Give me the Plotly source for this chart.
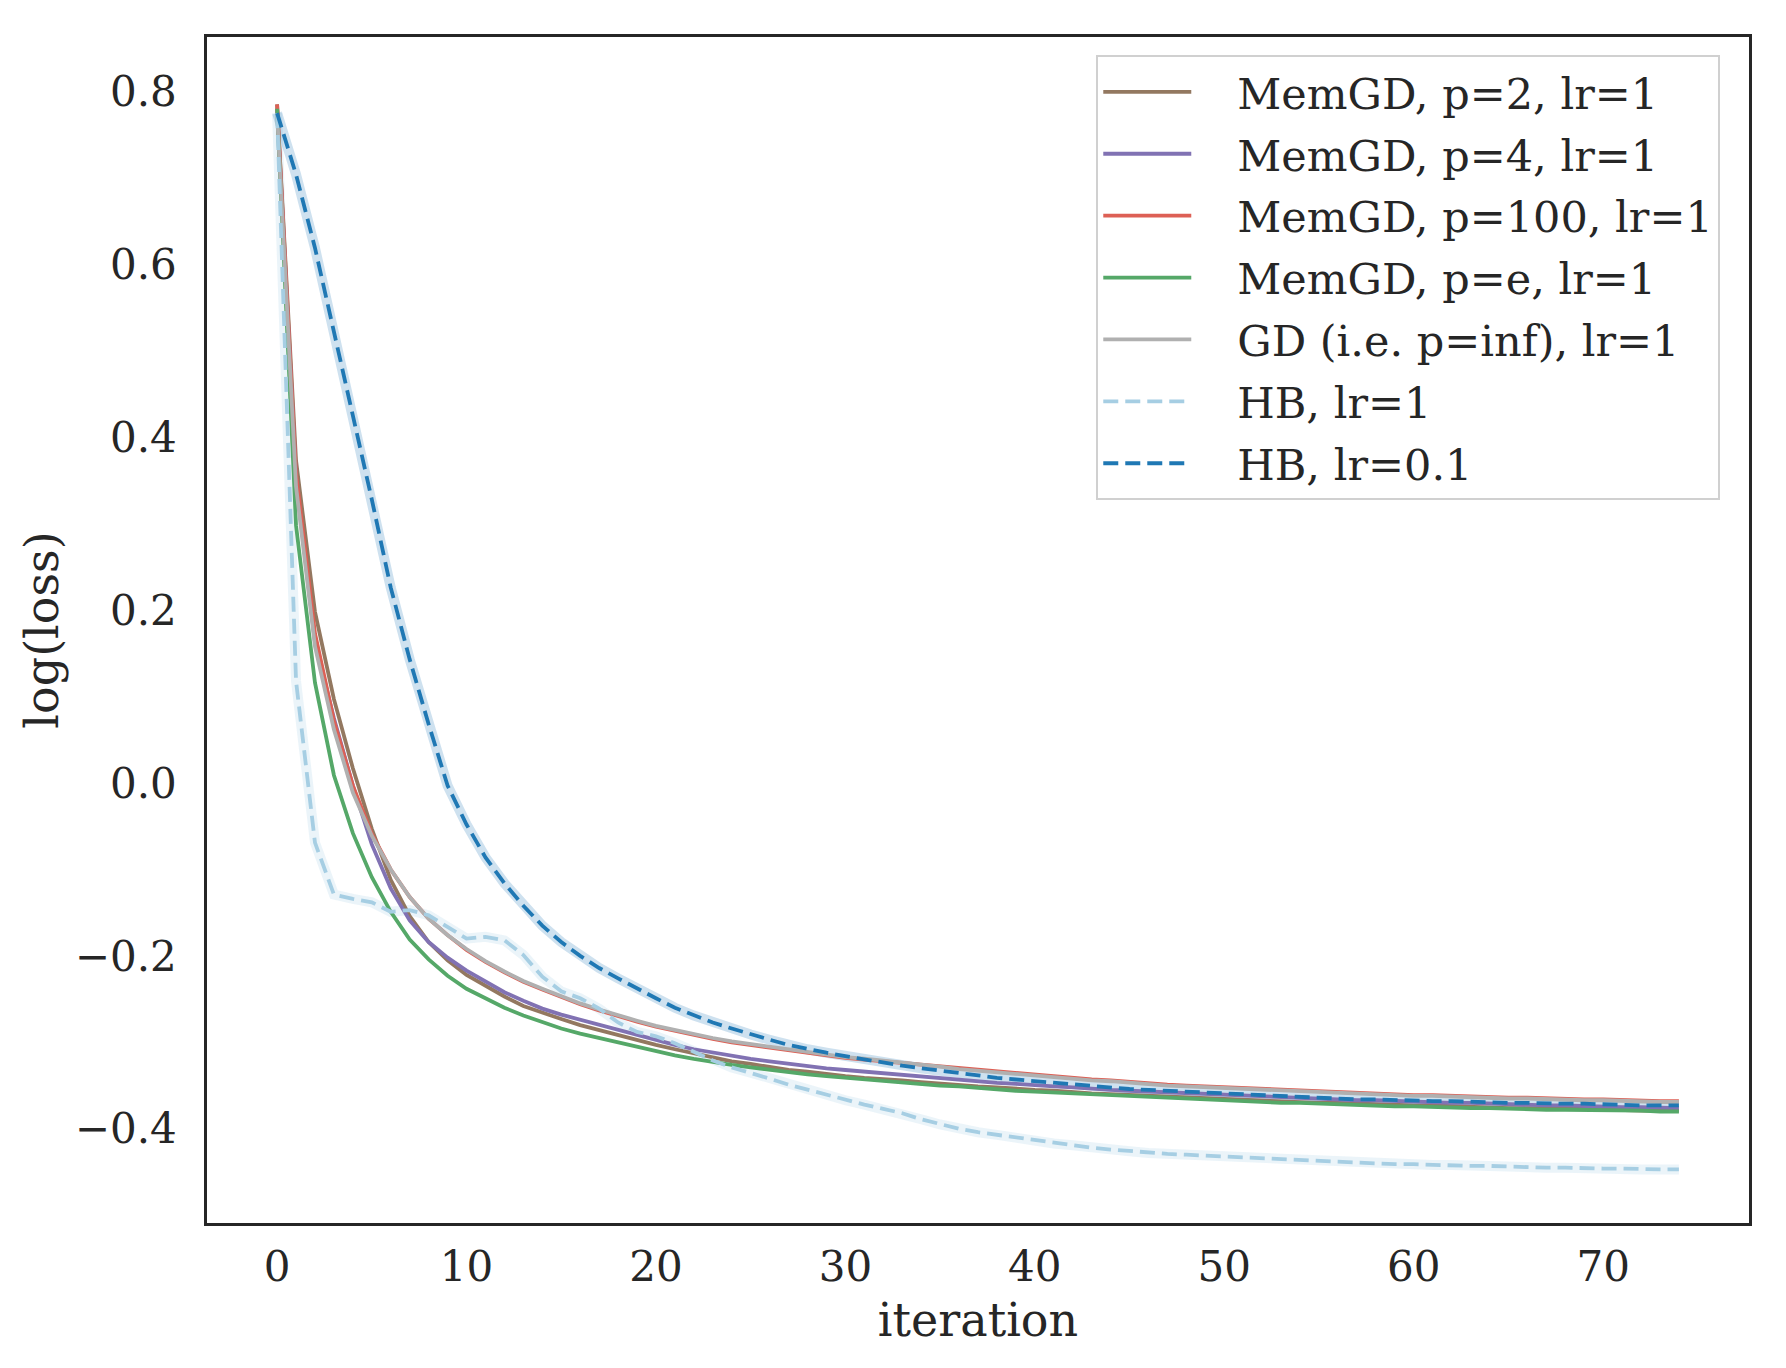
import plotly.graph_objects as go

iteration = list(range(75))

memgd_p2 = [0.785, 0.373, 0.198, 0.097, 0.017, -0.053, -0.112, -0.154, -0.184, -0.205,
            -0.222, -0.235, -0.247, -0.258, -0.266, -0.273, -0.280, -0.286, -0.292, -0.298,
            -0.303, -0.308, -0.313, -0.318, -0.322, -0.325, -0.329, -0.332, -0.334, -0.337,
            -0.339, -0.341, -0.342, -0.344, -0.346, -0.348, -0.349, -0.351, -0.352, -0.354,
            -0.355, -0.356, -0.358, -0.359, -0.360, -0.361, -0.362, -0.363, -0.364, -0.365,
            -0.366, -0.367, -0.367, -0.368, -0.369, -0.370, -0.370, -0.371, -0.372, -0.372,
            -0.373, -0.373, -0.374, -0.375, -0.375, -0.376, -0.376, -0.377, -0.377, -0.377,
            -0.378, -0.378, -0.379, -0.379, -0.379]

memgd_p4 = [0.780, 0.353, 0.163, 0.075, -0.003, -0.071, -0.122, -0.159, -0.184, -0.202,
            -0.217, -0.230, -0.242, -0.252, -0.261, -0.268, -0.274, -0.280, -0.286, -0.292,
            -0.298, -0.303, -0.308, -0.312, -0.316, -0.319, -0.322, -0.325, -0.328, -0.330,
            -0.332, -0.334, -0.336, -0.338, -0.340, -0.342, -0.344, -0.345, -0.347, -0.348,
            -0.350, -0.351, -0.352, -0.354, -0.355, -0.356, -0.357, -0.358, -0.359, -0.360,
            -0.361, -0.362, -0.363, -0.364, -0.364, -0.365, -0.366, -0.367, -0.367, -0.368,
            -0.369, -0.369, -0.370, -0.370, -0.371, -0.371, -0.372, -0.373, -0.373, -0.374,
            -0.374, -0.375, -0.375, -0.376, -0.376]

memgd_p100 = [0.785, 0.358, 0.173, 0.072, -0.003, -0.059, -0.100, -0.132, -0.157, -0.176,
              -0.193, -0.207, -0.219, -0.230, -0.239, -0.248, -0.256, -0.263, -0.270, -0.276,
              -0.282, -0.287, -0.292, -0.296, -0.300, -0.303, -0.307, -0.310, -0.313, -0.315,
              -0.318, -0.320, -0.322, -0.324, -0.325, -0.327, -0.330, -0.332, -0.334, -0.336,
              -0.338, -0.340, -0.341, -0.343, -0.344, -0.346, -0.347, -0.349, -0.350, -0.351,
              -0.352, -0.353, -0.354, -0.355, -0.356, -0.357, -0.358, -0.358, -0.359, -0.360,
              -0.361, -0.361, -0.362, -0.363, -0.363, -0.364, -0.364, -0.365, -0.365, -0.366,
              -0.366, -0.367, -0.367, -0.368, -0.368]

memgd_pe = [0.780, 0.298, 0.116, 0.009, -0.058, -0.109, -0.149, -0.181, -0.204, -0.223,
            -0.238, -0.249, -0.260, -0.269, -0.277, -0.284, -0.290, -0.295, -0.301, -0.306,
            -0.311, -0.315, -0.319, -0.323, -0.326, -0.329, -0.332, -0.335, -0.337, -0.339,
            -0.341, -0.343, -0.345, -0.346, -0.348, -0.350, -0.351, -0.353, -0.354, -0.356,
            -0.357, -0.358, -0.359, -0.361, -0.362, -0.363, -0.364, -0.365, -0.366, -0.367,
            -0.367, -0.368, -0.369, -0.370, -0.370, -0.371, -0.372, -0.372, -0.373, -0.374,
            -0.374, -0.375, -0.375, -0.376, -0.376, -0.377, -0.377, -0.378, -0.378, -0.378,
            -0.379, -0.379, -0.379, -0.380, -0.380]

gd = [0.775, 0.343, 0.158, 0.062, -0.011, -0.061, -0.100, -0.132, -0.157, -0.176,
      -0.192, -0.206, -0.218, -0.229, -0.238, -0.247, -0.255, -0.262, -0.269, -0.275,
      -0.281, -0.286, -0.291, -0.295, -0.299, -0.302, -0.306, -0.309, -0.312, -0.314,
      -0.317, -0.319, -0.321, -0.323, -0.326, -0.328, -0.331, -0.333, -0.335, -0.337,
      -0.339, -0.341, -0.342, -0.344, -0.345, -0.347, -0.348, -0.350, -0.351, -0.352,
      -0.353, -0.354, -0.355, -0.356, -0.357, -0.358, -0.359, -0.359, -0.360, -0.361,
      -0.362, -0.362, -0.363, -0.364, -0.364, -0.365, -0.365, -0.366, -0.366, -0.367,
      -0.367, -0.368, -0.368, -0.369, -0.369]

hb_lr1 = [0.775, 0.118, -0.069, -0.129, -0.134, -0.138, -0.149, -0.147, -0.153, -0.167,
          -0.180, -0.178, -0.182, -0.199, -0.224, -0.241, -0.249, -0.261, -0.277, -0.288,
          -0.293, -0.301, -0.311, -0.321, -0.329, -0.335, -0.342, -0.349, -0.355, -0.361,
          -0.367, -0.372, -0.377, -0.382, -0.389, -0.395, -0.400, -0.404, -0.407, -0.411,
          -0.414, -0.417, -0.419, -0.422, -0.424, -0.426, -0.428, -0.429, -0.430, -0.431,
          -0.433, -0.434, -0.435, -0.436, -0.437, -0.438, -0.439, -0.439, -0.440, -0.441,
          -0.441, -0.442, -0.442, -0.443, -0.443, -0.444, -0.444, -0.445, -0.445, -0.446,
          -0.446, -0.446, -0.447, -0.447, -0.447]

hb_lr01 = [0.775, 0.704, 0.619, 0.523, 0.427, 0.328, 0.226, 0.143, 0.068, -0.003,
           -0.048, -0.086, -0.116, -0.142, -0.165, -0.184, -0.200, -0.214, -0.226, -0.238,
           -0.249, -0.260, -0.269, -0.277, -0.284, -0.291, -0.297, -0.303, -0.308, -0.312,
           -0.316, -0.320, -0.324, -0.327, -0.330, -0.333, -0.336, -0.338, -0.341, -0.343,
           -0.345, -0.347, -0.349, -0.351, -0.352, -0.354, -0.355, -0.356, -0.357, -0.359,
           -0.360, -0.361, -0.362, -0.363, -0.364, -0.364, -0.365, -0.366, -0.366, -0.367,
           -0.367, -0.368, -0.368, -0.369, -0.369, -0.370, -0.370, -0.371, -0.371, -0.371,
           -0.372, -0.372, -0.373, -0.373, -0.373]

series = [
    ("MemGD, p=2, lr=1", memgd_p2, "#937860", "solid"),
    ("MemGD, p=4, lr=1", memgd_p4, "#8172b3", "solid"),
    ("MemGD, p=100, lr=1", memgd_p100, "#dd6055", "solid"),
    ("MemGD, p=e, lr=1", memgd_pe, "#55a868", "solid"),
    ("GD (i.e. p=inf), lr=1", gd, "#b0b0b0", "solid"),
    ("HB, lr=1", hb_lr1, "#a6cee3", "15px,7px"),
    ("HB, lr=0.1", hb_lr01, "#1f78b4", "15px,7px"),
]

fig = go.Figure()

# faint confidence halo under the heavy-ball runs
for name, vals, color, dash in series[5:]:
    r, g, b = int(color[1:3], 16), int(color[3:5], 16), int(color[5:7], 16)
    fig.add_trace(go.Scatter(x=iteration, y=vals, mode="lines", showlegend=False,
                             hoverinfo="skip",
                             line=dict(color=f"rgba({r},{g},{b},0.22)", width=10)))

pad = "\u00a0" * 3
for name, vals, color, dash in series:
    fig.add_trace(go.Scatter(x=iteration, y=vals, mode="lines", name=pad + name,
                             legendgroup=name,
                             line=dict(color=color, width=3.8, dash=dash)))

ink = "#262626"
tick_font = dict(family="DejaVu Serif", size=42, color=ink)
title_font = dict(family="DejaVu Serif", size=46, color=ink)
legend_font = dict(family="DejaVu Serif", size=43, color=ink)

fig.update_layout(
    width=1786, height=1368,
    margin=dict(l=207, r=37, t=37, b=145),
    paper_bgcolor="white", plot_bgcolor="white",
    font=tick_font,
    showlegend=True,
    legend=dict(x=0.5767, y=0.9845, xanchor="left", yanchor="top",
                bgcolor="rgba(255,255,255,0.8)", bordercolor="#d0d0d0", borderwidth=2,
                font=legend_font, itemwidth=88, tracegroupgap=3, traceorder="grouped"),
)
fig.update_xaxes(range=[-3.7, 77.7], tickvals=[0, 10, 20, 30, 40, 50, 60, 70],
                 showgrid=False, zeroline=False, showline=True, mirror=True,
                 linecolor=ink, linewidth=2.5, ticks="", ticklabelstandoff=5,
                 tickfont=tick_font,
                 title=dict(text="iteration", standoff=14, font=title_font))
fig.update_yaxes(range=[-0.509, 0.863], tickvals=[-0.4, -0.2, 0.0, 0.2, 0.4, 0.6, 0.8],
                 tickformat=".1f",
                 showgrid=False, zeroline=False, showline=True, mirror=True,
                 linecolor=ink, linewidth=2.5, ticks="", ticklabelstandoff=19,
                 tickfont=tick_font,
                 title=dict(text="log(loss)", standoff=2, font=title_font))

fig.write_html("out.html", config={"displayModeBar": False},
               post_script="document.body.style.margin='0';")
